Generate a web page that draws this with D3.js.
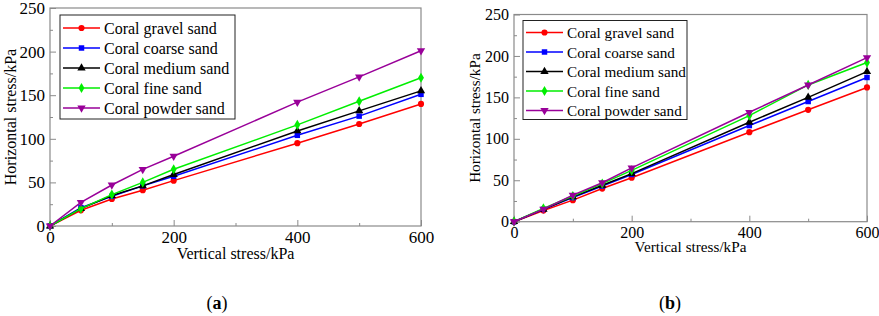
<!DOCTYPE html>
<html>
<head>
<meta charset="utf-8">
<script src="https://cdn.jsdelivr.net/npm/d3@7"></script>
<style>
  body { margin: 0; background: #fff; }
  svg text { fill: #000; }
</style>
</head>
<body>
<svg id="chart" width="879" height="316"></svg>
<script>
// vertical stress points (kPa)
const stressX = [0, 50, 100, 150, 200, 400, 500, 600];
const seriesNames = ["Coral gravel sand", "Coral coarse sand", "Coral medium sand", "Coral fine sand", "Coral powder sand"];
const seriesColors = ["#ff0000", "#0000ff", "#000000", "#00ee00", "#990099"];
const seriesSymbols = ["circle", "square", "triangle", "diamond", "triangleDown"];

// panel (a)
const gravelA = [0, 18, 31, 41, 52, 95, 117, 140];
const coarseA = [0, 21, 34, 46, 57, 104, 126, 151];
const mediumA = [0, 20, 35, 46, 59, 109, 132, 155];
const fineA   = [0, 20, 36, 50, 65, 116, 143, 170];
const powderA = [0, 27, 47, 65, 80, 142, 171, 201];

// panel (b)
const gravelB = [0, 13.5, 26, 40, 53, 108, 135, 162];
const coarseB = [0, 15, 29, 43, 57, 116, 145, 174];
const mediumB = [0, 15, 30, 44, 58, 120, 150, 181];
const fineB   = [0, 16, 31, 46, 62, 128, 165, 192];
const powderB = [0, 15, 32, 47, 65, 132, 165, 198];

const xTicks = [0, 200, 400, 600];
const yTicks = [0, 50, 100, 150, 200, 250];

const svg = d3.select("#chart");
const FONT = "Liberation Serif, Times New Roman, serif";

function drawPanel(opt) {
  const x = d3.scaleLinear().domain([0, 600]).range([opt.left, opt.right]);
  const y = d3.scaleLinear().domain([0, 250]).range([opt.bottom, opt.top]);
  const g = svg.append("g");

  // frame
  g.append("rect")
    .attr("x", opt.left).attr("y", opt.top)
    .attr("width", opt.right - opt.left).attr("height", opt.bottom - opt.top)
    .attr("fill", "none").attr("stroke", "#8a8a8a").attr("stroke-width", 1.2);

  // minor ticks
  g.append("g")
    .attr("transform", "translate(0," + opt.bottom + ")")
    .call(d3.axisBottom(x).tickValues([100, 300, 500]).tickSize(-3).tickFormat(""))
    .call(a => a.select(".domain").remove())
    .selectAll("line").attr("stroke", "#8a8a8a");
  g.append("g")
    .attr("transform", "translate(" + opt.left + ",0)")
    .call(d3.axisLeft(y).tickValues([25, 75, 125, 175, 225]).tickSize(-3).tickFormat(""))
    .call(a => a.select(".domain").remove())
    .selectAll("line").attr("stroke", "#8a8a8a");

  // major ticks
  const xa = g.append("g")
    .attr("transform", "translate(0," + opt.bottom + ")")
    .call(d3.axisBottom(x).tickValues(xTicks).tickSize(-6).tickPadding(5));
  xa.attr("font-family", FONT).attr("font-size", opt.tickFont);
  xa.select(".domain").remove();
  xa.selectAll("line").attr("stroke", "#8a8a8a");

  const ya = g.append("g")
    .attr("transform", "translate(" + opt.left + ",0)")
    .call(d3.axisLeft(y).tickValues(yTicks).tickSize(-6).tickPadding(5));
  ya.attr("font-family", FONT).attr("font-size", opt.tickFont);
  ya.select(".domain").remove();
  ya.selectAll("line").attr("stroke", "#8a8a8a");

  // axis titles
  g.append("text")
    .attr("x", (opt.left + opt.right) / 2).attr("y", opt.bottom + opt.xTitleGap)
    .attr("text-anchor", "middle").attr("font-family", FONT).attr("font-size", opt.font)
    .text("Vertical stress/kPa");
  g.append("text")
    .attr("transform", "translate(" + (opt.left - 34) + "," + ((opt.top + opt.bottom) / 2) + ") rotate(-90)")
    .attr("text-anchor", "middle").attr("font-family", FONT).attr("font-size", opt.font)
    .text("Horizontal stress/kPa");

  // lines and markers
  const line = d3.line().x((d, i) => x(stressX[i])).y(d => y(d));
  const symbolMap = {
    circle: d3.symbolCircle, square: d3.symbolSquare, triangle: d3.symbolTriangle,
    diamond: d3.symbolDiamond, triangleDown: d3.symbolTriangle
  };
  opt.series.forEach((vals, k) => {
    g.append("path").datum(vals)
      .attr("d", line).attr("fill", "none")
      .attr("stroke", seriesColors[k]).attr("stroke-width", 1.5);
    g.selectAll(null).data(vals).enter().append("path")
      .attr("d", d3.symbol().type(symbolMap[seriesSymbols[k]]).size(30))
      .attr("transform", (d, i) => "translate(" + x(stressX[i]) + "," + y(d) + ")" + (seriesSymbols[k] === "triangleDown" ? " rotate(180)" : ""))
      .attr("fill", seriesColors[k]);
  });

  // legend
  const lg = g.append("g");
  lg.append("rect")
    .attr("x", opt.legX).attr("y", opt.legY)
    .attr("width", opt.legW).attr("height", opt.legH)
    .attr("fill", "#fff").attr("stroke", "#222").attr("stroke-width", 1);
  seriesNames.forEach((name, k) => {
    const yy = opt.legY + opt.legFirst + k * opt.legStep;
    lg.append("line")
      .attr("x1", opt.legX + 3).attr("x2", opt.legX + 40)
      .attr("y1", yy).attr("y2", yy)
      .attr("stroke", seriesColors[k]).attr("stroke-width", 1.5);
    lg.append("path")
      .attr("d", d3.symbol().type(symbolMap[seriesSymbols[k]]).size(30))
      .attr("transform", "translate(" + (opt.legX + 21.5) + "," + yy + ")" + (seriesSymbols[k] === "triangleDown" ? " rotate(180)" : ""))
      .attr("fill", seriesColors[k]);
    lg.append("text")
      .attr("x", opt.legX + 44).attr("y", yy + 5.5)
      .attr("font-family", FONT).attr("font-size", opt.font)
      .text(name);
  });

  // panel label
  const lab = svg.append("text")
    .attr("x", opt.labelX).attr("y", 309)
    .attr("text-anchor", "middle").attr("font-family", FONT).attr("font-size", 18);
  lab.append("tspan").text("(");
  lab.append("tspan").attr("font-weight", "bold").text(opt.label);
  lab.append("tspan").text(")");
}

drawPanel({
  left: 50, right: 421, top: 8, bottom: 226,
  series: [gravelA, coarseA, mediumA, fineA, powderA],
  font: 16, tickFont: 17, xTitleGap: 33,
  legX: 60, legY: 15, legW: 175, legH: 104, legFirst: 13, legStep: 20,
  label: "a", labelX: 217
});

drawPanel({
  left: 514, right: 867, top: 14.5, bottom: 221.7,
  series: [gravelB, coarseB, mediumB, fineB, powderB],
  font: 15.2, tickFont: 16, xTitleGap: 30,
  legX: 523, legY: 20.5, legW: 164, legH: 99, legFirst: 12, legStep: 19.5,
  label: "b", labelX: 670
});
</script>
</body>
</html>
